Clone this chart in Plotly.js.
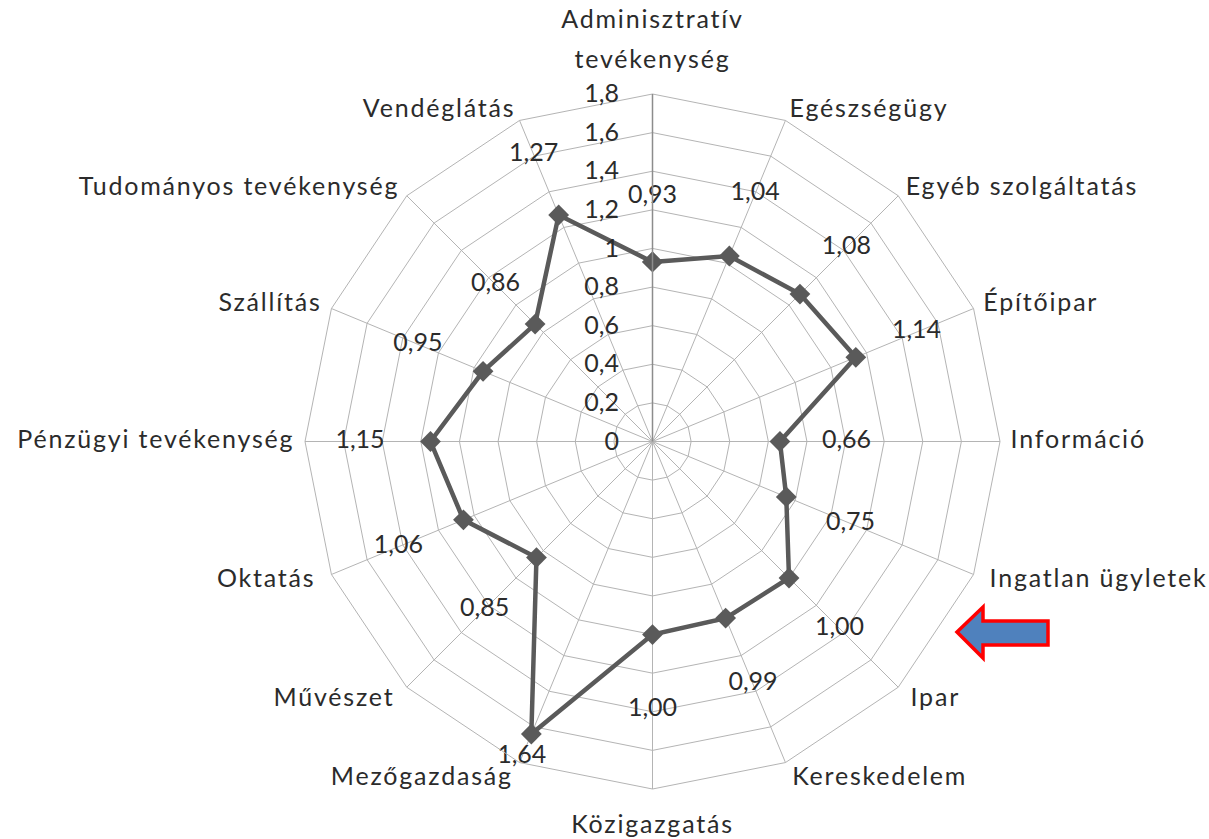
<!DOCTYPE html>
<html>
<head>
<meta charset="utf-8">
<script src="https://cdn.plot.ly/plotly-3.0.1.min.js"></script>
<style>
html,body{margin:0;padding:0;background:#fff;}
#chart{width:1209px;height:839px;}
</style>
</head>
<body>
<div id="chart"></div>
<script>
// ---- data ----
const categories = [
  "Adminisztratív<br>tevékenység", "Egészségügy", "Egyéb szolgáltatás", "Építőipar",
  "Információ", "Ingatlan ügyletek", "Ipar", "Kereskedelem", "Közigazgatás",
  "Mezőgazdaság", "Művészet", "Oktatás", "Pénzügyi tevékenység", "Szállítás",
  "Tudományos tevékenység", "Vendéglátás"
];
const values = [0.93, 1.04, 1.08, 1.14, 0.66, 0.75, 1.00, 0.99, 1.00, 1.64, 0.85, 1.06, 1.15, 0.95, 0.86, 1.27];
const radialTicks = [0, 0.2, 0.4, 0.6, 0.8, 1, 1.2, 1.4, 1.6, 1.8];

// ---- label placement (style, not data) ----
const labelOffset = [0.34, 0.35, 0.34, 0.34, 0.345, 0.36, 0.37, 0.37, 0.39, 0.13, 0.38, 0.365, 0.365, 0.365, 0.29, 0.34];
// category names sit just outside the 1.8 ring; top, bottom and lower names a little further out
const catLabelR = categories.map((c, i) => i === 0 ? 1.94 : i === 8 ? 1.93 : i > 4 && i < 12 ? 1.89 : 1.855);
const catLabelPos = categories.map((c, i) =>
  i === 0 ? "top center" :
  i === 8 ? "bottom center" :
  i < 8 ? "middle right" : "middle left");

const fmt = v => v.toFixed(2).replace('.', ',');
const FONT = "Lato, 'Open Sans', sans-serif";
const TXT = "#2b2b2b";
const FS = 25;

const thetaClosed = categories.concat([categories[0]]);
const valuesClosed = values.concat([values[0]]);

// geometry of the chart area (pixels)
const W = 1209, H = 839;
const CX = 652.5, CY = 441.5, R1 = 347.5, R2 = 397.5;
const RMAX = 1.8;

const traces = [
  {
    type: "scatterpolar",
    r: valuesClosed,
    theta: thetaClosed,
    mode: "lines+markers",
    line: {color: "#5a5a5a", width: 4.5},
    marker: {symbol: "diamond", size: 16, color: "#5a5a5a"},
    hoverinfo: "skip",
    showlegend: false
  },
  {
    type: "scatterpolar",
    r: values.map((v, i) => v + labelOffset[i]),
    theta: categories,
    mode: "text",
    text: values.map(fmt),
    textposition: "middle center",
    textfont: {family: FONT, size: FS, color: TXT},
    hoverinfo: "skip",
    showlegend: false
  },
  {
    type: "scatterpolar",
    subplot: "polar2",
    r: catLabelR,
    theta: categories,
    mode: "text",
    text: categories,
    textposition: catLabelPos,
    textfont: {family: FONT, size: FS, color: TXT},
    cliponaxis: false,
    hoverinfo: "skip",
    showlegend: false
  }
];

const px = (x, y) => (x / W).toFixed(5) + "," + (1 - y / H).toFixed(5);
const arrowPts = [[957,632],[983,607],[983,621],[1048,621],[1048,645],[983,645],[983,658]];
const arrowPath = "M" + arrowPts.map(p => px(p[0], p[1])).join(" L") + " Z";

const angular = {
  direction: "clockwise",
  rotation: 90,
  categoryorder: "array",
  categoryarray: categories
};

const layout = {
  width: W, height: H,
  margin: {l: 0, r: 0, t: 0, b: 0},
  paper_bgcolor: "#fff",
  separators: ", ",
  font: {family: FONT, size: FS, color: TXT},
  showlegend: false,
  polar: {
    domain: {x: [(CX - R1) / W, (CX + R1) / W], y: [1 - (CY + R1) / H, 1 - (CY - R1) / H]},
    bgcolor: "#fff",
    gridshape: "linear",
    radialaxis: {
      range: [0, RMAX],
      tickvals: radialTicks,
      ticktext: radialTicks.map(t => String(t).replace('.', ',')),
      angle: 90,
      tickangle: 90,
      side: "counterclockwise",
      ticks: "outside",
      ticklen: 24,
      tickcolor: "rgba(0,0,0,0)",
      showline: true,
      linecolor: "#8c8c8c",
      linewidth: 1.5,
      gridcolor: "#b4b4b4",
      gridwidth: 1,
      tickfont: {family: FONT, size: FS, color: TXT}
    },
    angularaxis: Object.assign({
      showline: true,
      linecolor: "#b4b4b4",
      linewidth: 1,
      gridcolor: "#b4b4b4",
      gridwidth: 1,
      ticks: "",
      showticklabels: false
    }, angular)
  },
  // transparent companion subplot (same centre, same units) that carries the category names
  polar2: {
    domain: {x: [(CX - R2) / W, (CX + R2) / W], y: [1 - (CY + R2) / H, 1 - (CY - R2) / H]},
    bgcolor: "rgba(0,0,0,0)",
    gridshape: "linear",
    radialaxis: {range: [0, RMAX * R2 / R1], visible: false, showgrid: false},
    angularaxis: Object.assign({
      showline: false, showgrid: false, ticks: "", showticklabels: false
    }, angular)
  },
  shapes: [{
    type: "path", xref: "paper", yref: "paper",
    path: arrowPath,
    fillcolor: "#4F81BD",
    line: {color: "#FF0000", width: 3.5}
  }]
};

Plotly.newPlot("chart", traces, layout, {displayModeBar: false, staticPlot: true}).then(gd => {
  // widen category-name spacing slightly, like the original rendering
  const names = new Set(categories.map(c => c.replace("<br>", "")));
  gd.querySelectorAll("text").forEach(t => {
    if (names.has(t.textContent)) {
      t.style.letterSpacing = "1.8px";
      const lines = t.querySelectorAll("tspan.line");
      if (lines.length > 1) lines[1].setAttribute("dy", "1.6em");
    }
  });
});
</script>
</body>
</html>
